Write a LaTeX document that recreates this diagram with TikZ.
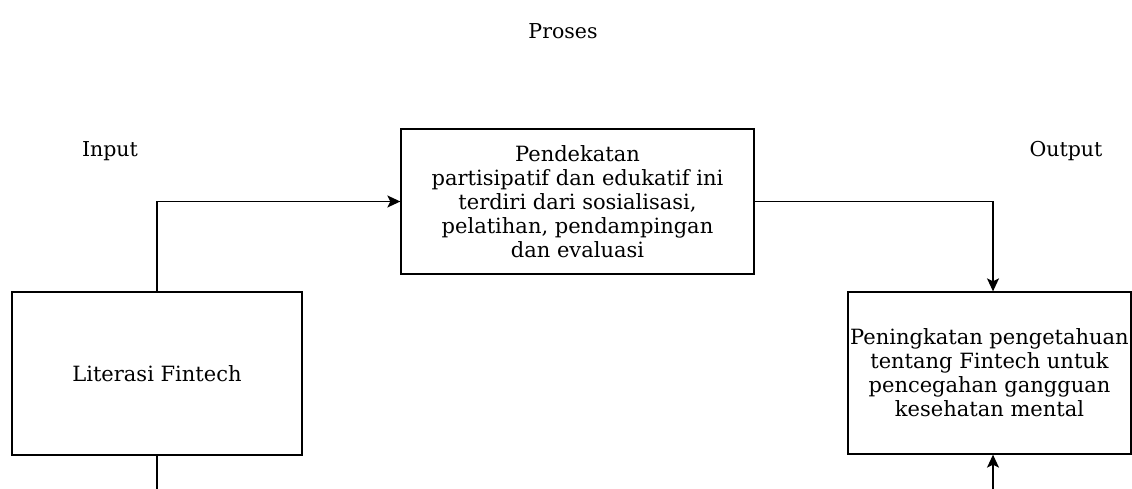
\documentclass[tikz,border=0pt]{standalone}
\usepackage{fontspec}
\setmainfont{DejaVu Serif}
\usetikzlibrary{arrows.meta}
\begin{document}
\begin{tikzpicture}[x=1pt,y=-1pt,
  box/.style={draw,line width=1.3pt,inner sep=0pt,align=center,font=\fontsize{21}{24}\selectfont},
  lbl/.style={font=\fontsize{20.5}{24}\selectfont},
  conn/.style={line width=1.5pt},
  arr/.style={conn,-{Stealth[length=13pt,width=12pt,inset=3pt]}}]
\useasboundingbox (0,0) rectangle (1132,489);
\node[lbl] (proses) at (563,31) {Proses};
\node[lbl] (input) at (110,151) {Input};
\node[lbl] (output) at (1066,151) {Output};
\node[box,minimum width=290pt,minimum height=163pt] (lit) at (157,373.5) {Literasi Fintech};
\node[box,minimum width=353pt,minimum height=145pt] (pro) at (577.5,201.5) {Pendekatan\\partisipatif dan edukatif ini\\terdiri dari sosialisasi,\\pelatihan, pendampingan\\dan evaluasi};
\node[box,minimum width=283pt,minimum height=162pt] (out) at (989.5,373) {Peningkatan pengetahuan\\tentang Fintech untuk\\pencegahan gangguan\\kesehatan mental};
\coordinate (bl) at (157,489);
\coordinate (br) at (993,489);
\draw[arr] (lit.north) |- (pro.west);
\draw[arr] (pro.east) -| (out.north -| br);
\draw[conn] (lit.south) -- (bl);
\draw[arr] (br) -- (out.south -| br);
\end{tikzpicture}
\end{document}
